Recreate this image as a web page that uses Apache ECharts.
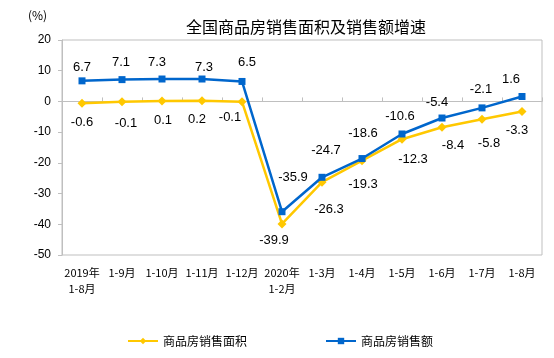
<!DOCTYPE html>
<html>
<head>
<meta charset="utf-8">
<script src="https://cdn.jsdelivr.net/npm/echarts@6/dist/echarts.min.js"></script>
<style>html,body{margin:0;padding:0;background:#fff}#c{width:554px;height:358px}</style>
</head>
<body>
<div id="c"></div>
<script>
var categories = ['2019年\n1-8月','1-9月','1-10月','1-11月','1-12月','2020年\n1-2月','1-3月','1-4月','1-5月','1-6月','1-7月','1-8月'];
var areaName = '商品房销售面积';
var amountName = '商品房销售额';
var areaValues = [-0.6, -0.1, 0.1, 0.2, -0.1, -39.9, -26.3, -19.3, -12.3, -8.4, -5.8, -3.3];
var amountValues = [6.7, 7.1, 7.3, 7.3, 6.5, -35.9, -24.7, -18.6, -10.6, -5.4, -2.1, 1.6];
var yTicks = [20, 10, 0, -10, -20, -30, -40, -50];

// label placement (style only)
var areaLabelOffsets = [[0,19],[4,22],[1,19],[-5,19],[-12,16],[-8,16],[7,27],[1,24],[11,20],[11,18],[7,24],[-5,19]];
var amountLabelOffsets = [[0,-13],[-1,-17],[-5,-17],[2,-12],[5,-19],[11,-34],[4,-27],[1,-25],[-2,-18],[-5,-16],[-1,-18],[-11,-17]];

function mk(values, offsets) {
  return values.map(function (v, i) {
    return { value: v, label: { offset: offsets[i] } };
  });
}

var chart = echarts.init(document.getElementById('c'), null, {renderer: 'canvas'});
var labelStyle = {
  show: true, position: 'inside', align: 'center', verticalAlign: 'middle',
  color: '#000', fontSize: 13, fontFamily: 'Liberation Sans, Arial, sans-serif',
  formatter: function (p) { return p.value.toFixed(1); }
};
chart.setOption({
  animation: false,
  backgroundColor: '#fff',
  title: {
    text: '全国商品房销售面积及销售额增速',
    left: 301, textAlign: 'center', top: 14,
    textStyle: { fontSize: 16, fontWeight: 'normal', color: '#000', fontFamily: 'Noto Sans CJK SC' }
  },
  graphic: [{
    type: 'text', left: 28, top: 9,
    style: { text: '(%)', fontSize: 12, fill: '#000', fontFamily: 'Noto Sans CJK SC' }
  }],
  legend: {
    left: 122, top: 330, itemWidth: 30, itemHeight: 8, itemGap: 78,
    textStyle: { fontSize: 12, color: '#000', fontFamily: 'Noto Sans CJK SC' },
    data: [areaName, amountName]
  },
  grid: { left: 62, right: 12, top: 40, bottom: 103, show: true, borderColor: '#BFBFBF', borderWidth: 1 },
  xAxis: {
    type: 'category', data: categories, boundaryGap: true,
    axisLine: { lineStyle: { color: '#BFBFBF', width: 1 } },
    axisTick: { show: true, inside: true, length: 4, lineStyle: { color: '#BFBFBF' } },
    axisLabel: { interval: 0, margin: 10, fontSize: 11, lineHeight: 16, color: '#000', fontFamily: 'Noto Sans CJK SC' }
  },
  yAxis: {
    type: 'value', min: yTicks[yTicks.length - 1], max: yTicks[0], interval: 10,
    splitLine: { show: false },
    axisLine: { show: true, lineStyle: { color: '#BFBFBF', width: 1 } },
    axisTick: { show: true, length: 4, lineStyle: { color: '#BFBFBF' } },
    axisLabel: { margin: 11, fontSize: 12, color: '#000', fontFamily: 'Liberation Sans, Arial, sans-serif' }
  },
  series: [{
    name: areaName, type: 'line', data: mk(areaValues, areaLabelOffsets),
    symbol: 'diamond', symbolSize: 9, itemStyle: { color: '#FFC800' },
    lineStyle: { color: '#FFC800', width: 2.5 }, label: labelStyle, z: 2
  }, {
    name: amountName, type: 'line', data: mk(amountValues, amountLabelOffsets),
    symbol: 'rect', symbolSize: 7, itemStyle: { color: '#0066CC' },
    lineStyle: { color: '#0066CC', width: 2.5 }, label: labelStyle, z: 3
  }]
});
</script>
</body>
</html>
